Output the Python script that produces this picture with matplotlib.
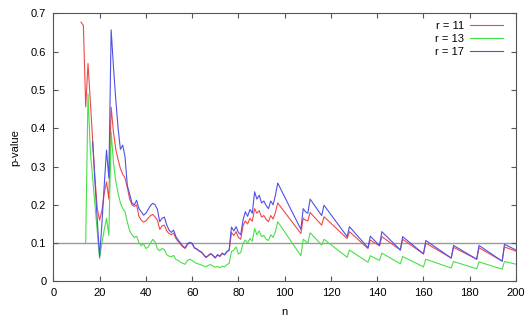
import numpy as np
import matplotlib
matplotlib.use('Agg')
import matplotlib.pyplot as plt

plt.rcParams['font.family'] = ['Liberation Sans', 'DejaVu Sans']
plt.rcParams['font.size'] = 8

nan = np.nan

# sample sizes: every n up to 97, then the sawtooth corners
n_tail = [107, 108, 109, 110, 111, 116, 117, 127, 128, 136, 137, 141, 142,
          150, 151, 160, 161, 172, 173, 183, 184, 194, 195, 200]
n_vals = list(range(12, 98)) + n_tail

# p-values, r = 11
p_r11 = [0.677, 0.668, 0.456, 0.569, 0.47, 0.37, 0.27, 0.19, 0.16, 0.185,
         0.23, 0.26, 0.215, 0.455, 0.39, 0.345, 0.318, 0.295, 0.28, 0.27,
         0.245, 0.215, 0.2, 0.196, 0.2, 0.17, 0.16, 0.155, 0.158, 0.165,
         0.172, 0.175, 0.168, 0.16, 0.136, 0.145, 0.147, 0.132, 0.125, 0.122,
         0.126, 0.112, 0.104, 0.097, 0.09, 0.086, 0.097, 0.1, 0.098, 0.087,
         0.084, 0.079, 0.076, 0.069, 0.062, 0.067, 0.072, 0.067, 0.061, 0.069,
         0.065, 0.073, 0.069, 0.077, 0.081, 0.128, 0.12, 0.13, 0.115, 0.11,
         0.145, 0.158, 0.15, 0.165, 0.157, 0.19, 0.178, 0.185, 0.168, 0.172,
         0.162, 0.156, 0.172, 0.163, 0.18, 0.205,
         0.125, 0.165, 0.16, 0.158, 0.18, 0.147, 0.169, 0.112, 0.13, 0.086,
         0.108, 0.093, 0.117, 0.082, 0.11, 0.072, 0.1, 0.061, 0.089, 0.058,
         0.088, 0.053, 0.09, 0.079]

# p-values, r = 13
p_r13 = [nan, nan, 0.1, 0.49, 0.34, 0.27, 0.2, 0.13, 0.06, 0.1,
         0.135, 0.165, 0.12, 0.39, 0.31, 0.262, 0.23, 0.205, 0.19, 0.182,
         0.155, 0.132, 0.122, 0.115, 0.118, 0.102, 0.093, 0.098, 0.086, 0.09,
         0.1, 0.11, 0.103, 0.085, 0.08, 0.086, 0.083, 0.07, 0.066, 0.064,
         0.068, 0.057, 0.055, 0.05, 0.047, 0.045, 0.055, 0.058, 0.055, 0.05,
         0.047, 0.045, 0.043, 0.04, 0.038, 0.042, 0.044, 0.04, 0.037, 0.039,
         0.036, 0.04, 0.038, 0.044, 0.047, 0.078, 0.082, 0.09, 0.072, 0.075,
         0.1, 0.108, 0.1, 0.112, 0.105, 0.138, 0.122, 0.132, 0.117, 0.12,
         0.11, 0.107, 0.122, 0.115, 0.13, 0.156,
         0.067, 0.11, 0.105, 0.1, 0.127, 0.095, 0.11, 0.063, 0.082, 0.05,
         0.067, 0.055, 0.074, 0.046, 0.065, 0.038, 0.058, 0.035, 0.052, 0.033,
         0.051, 0.032, 0.052, 0.045]

# p-values, r = 17
p_r17 = [nan, nan, nan, nan, nan, 0.365, 0.26, 0.16, 0.065, 0.15,
         0.25, 0.343, 0.27, 0.657, 0.56, 0.475, 0.4, 0.345, 0.356, 0.325,
         0.25, 0.228, 0.205, 0.2, 0.212, 0.19, 0.182, 0.173, 0.178, 0.188,
         0.198, 0.204, 0.2, 0.188, 0.156, 0.165, 0.168, 0.148, 0.134, 0.128,
         0.134, 0.117, 0.108, 0.1, 0.092, 0.088, 0.099, 0.102, 0.1, 0.088,
         0.085, 0.08, 0.077, 0.07, 0.063, 0.068, 0.073, 0.068, 0.062, 0.07,
         0.066, 0.074, 0.07, 0.078, 0.082, 0.142, 0.132, 0.143, 0.128, 0.122,
         0.16, 0.182, 0.17, 0.188, 0.178, 0.234, 0.215, 0.225, 0.205, 0.21,
         0.198, 0.19, 0.21, 0.2, 0.225, 0.257,
         0.136, 0.19, 0.182, 0.178, 0.215, 0.172, 0.199, 0.117, 0.143, 0.088,
         0.118, 0.094, 0.13, 0.082, 0.117, 0.072, 0.107, 0.061, 0.094, 0.058,
         0.094, 0.053, 0.097, 0.082]

series = [('r = 11', p_r11, '#f04848'),
          ('r = 13', p_r13, '#48e048'),
          ('r = 17', p_r17, '#5050e8')]

x_ticks = [0, 20, 40, 60, 80, 100, 120, 140, 160, 180, 200]
y_ticks = [0, 0.1, 0.2, 0.3, 0.4, 0.5, 0.6, 0.7]
y_tick_labels = ['0', '0.1', '0.2', '0.3', '0.4', '0.5', '0.6', '0.7']
threshold = 0.1

fig = plt.figure(figsize=(5.31, 3.18), dpi=100)
ax = fig.add_axes([0.1004, 0.115, 0.8714, 0.843])

ax.axhline(threshold, color='#9a9a9a', lw=1.0, zorder=1)
for label, vals, color in series:
    ax.plot(n_vals, vals, color=color, lw=0.8, label=label, zorder=2)

ax.set_xlim(0, 200)
ax.set_ylim(0, 0.7)
ax.set_xticks(x_ticks)
ax.set_yticks(y_ticks)
ax.set_yticklabels(y_tick_labels)
ax.tick_params(direction='in', length=3.5, width=0.8, color='#555555',
               top=True, right=True, labelsize=8, pad=5)
for sp in ax.spines.values():
    sp.set_color('#555555')
    sp.set_linewidth(0.8)

ax.set_xlabel('n', fontsize=8, labelpad=6)
ax.set_ylabel('p-value', fontsize=8, labelpad=8)

# gnuplot style key: text first, right aligned
leg = ax.legend(loc='upper right', bbox_to_anchor=(0.988, 1.0),
                frameon=False, markerfirst=False,
                handlelength=2.9, handletextpad=0.6, labelspacing=0.25,
                borderaxespad=0.3, fontsize=8)

fig.savefig('out.png', dpi=100)
